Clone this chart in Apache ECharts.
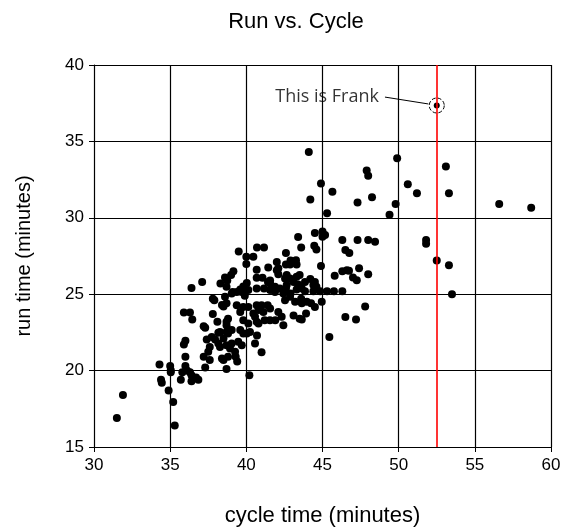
<!DOCTYPE html>
<html>
<head>
<meta charset="utf-8">
<script src="https://cdn.jsdelivr.net/npm/echarts@6/dist/echarts.min.js"></script>
<style>
  html, body { margin: 0; padding: 0; background: #fff; }
  #chart { width: 563px; height: 529px; }
</style>
</head>
<body>
<div id="chart"></div>
<script>
// cycle time (minutes) and run time (minutes), one entry per runner
var cycleTime = [
  31.5, 31.9, 34.3, 34.4, 34.45, 34.9, 35.2, 35.3, 35.0, 35.04, 35.04, 36.0, 36.1, 35.8, 36.3, 36.4, 36.7, 36.85, 36.4, 35.7,
  36.0, 35.9, 36.0, 35.9, 36.3, 36.45, 37.2, 37.3, 37.2, 37.6, 37.3, 38.5, 39.3, 39.4, 38.7, 40.2, 37.9, 37.8, 38.1, 38.7,
  38.8, 38.4, 38.5, 38.7, 37.8, 36.4, 37.1, 38.3, 38.6, 38.75, 39.0, 39.15, 39.5, 40.0, 40.46, 40.0, 40.7, 41.16, 40.68, 41.44,
  40.68, 41.06, 40.68, 41.16, 41.42, 40.03, 39.8, 39.6, 39.1,
  44.1, 49.9, 47.9, 48.0, 44.9, 50.6, 45.65, 51.2, 53.3, 53.1, 44.2, 47.3, 48.25, 49.8, 49.4, 45.3, 56.6, 58.7, 51.8, 51.8,
  52.5, 53.3, 53.5,
  44.5, 45.0, 45.17, 45.0, 43.4, 46.3, 47.3, 48.0, 48.45, 44.46, 44.6, 43.6, 42.6, 46.5, 46.76, 42.0, 42.9, 43.26, 42.87, 44.9,
  42.1, 46.3, 46.6, 46.74, 47.4, 45.8, 48.0, 47.0, 47.25, 44.2, 44.5, 44.4, 44.6,
  43.85, 44.4, 44.85, 45.3, 45.75, 46.3, 43.6, 43.97, 44.5, 44.95, 43.92, 43.64, 47.8, 46.5, 47.2, 45.45, 44.25, 43.1, 43.5,
  41.2, 41.55, 41.9, 40.7, 40.57, 41.0,
  42.6, 43.3, 42.0, 42.1, 42.65, 42.54, 42.87, 43.3, 43.5, 43.1, 42.65, 43.4, 43.85, 41.56, 39.7, 40.13, 41.56, 41.88, 42.2, 38.7,
  38.6, 39.04, 39.37, 39.9, 40.68, 41.4, 40.8, 40.46, 40.57, 41.12, 41.56, 42.1, 42.54, 42.87, 43.2, 43.64, 39.6, 39.8, 38.7, 39.8,
  40.13, 40.8, 42.32, 42.43, 38.7, 38.8, 39.04, 39.6, 39.8, 40.03, 40.24, 39.04, 39.47, 39.7, 38.7, 38.93, 39.26,
  38.27, 38.8, 37.73, 37.4, 37.95, 38.5, 38.16, 37.6, 37.5, 38.27, 38.8, 38.4,
  39.37, 40.13, 41.0, 38.16, 40.68,
  41.56, 41.88, 43.64, 43.3, 42.6, 42.43, 42.9
];
var runTime = [
  16.9, 18.4, 20.4, 19.4, 19.2, 18.7, 17.95, 16.4, 20.3, 20.03, 19.9, 20.3, 20.0, 19.9, 19.9, 19.7, 19.55, 19.4, 19.3, 19.4,
  20.9, 21.7, 21.95, 23.8, 23.8, 23.35, 22.9, 22.8, 20.9, 20.7, 20.2, 20.7, 20.9, 20.6, 20.1, 19.7, 24.6, 23.7, 23.2, 23.2,
  23.4, 24.3, 24.2, 24.4, 24.7, 25.4, 25.8, 25.7, 26.1, 25.9, 26.25, 26.5, 27.8, 27.45, 27.45, 26.97, 28.06, 28.06, 26.6, 26.75,
  26.07, 26.07, 25.38, 25.38, 25.8, 25.74, 25.5, 25.3, 25.15,
  34.3, 33.9, 33.1, 32.75, 32.25, 32.2, 31.7, 31.6, 31.6, 33.35, 31.2, 31.0, 31.35, 30.9, 30.2, 30.3, 30.9, 30.65, 28.55, 28.3,
  27.2, 26.9, 25.0,
  29.0, 29.1, 28.87, 28.76, 28.75, 28.55, 28.55, 28.55, 28.43, 28.17, 27.93, 28.06, 27.7, 27.9, 27.7, 27.1, 27.2, 27.23, 26.95, 26.85,
  26.7, 26.5, 26.57, 26.53, 26.7, 26.2, 26.3, 26.1, 25.92, 26.0, 25.8, 25.6, 25.48,
  25.2, 25.2, 25.2, 25.2, 25.2, 25.2, 24.7, 24.5, 24.17, 24.5, 23.74, 23.35, 24.2, 23.5, 23.35, 22.2, 24.4, 23.6, 23.4,
  23.3, 23.3, 23.3, 22.3, 21.77, 21.2,
  26.95, 26.95, 26.57, 26.3, 26.25, 26.03, 26.03, 26.14, 26.25, 25.8, 25.6, 25.64, 25.8, 25.9, 25.15, 25.27, 25.27, 25.15, 25.38, 25.48,
  24.83, 25.05, 25.15, 24.9, 24.28, 24.28, 23.96, 23.74, 23.52, 23.84, 24.07, 23.84, 24.61, 24.83, 24.5, 24.4, 23.84, 24.17, 22.97, 23.3,
  23.08, 23.08, 23.52, 22.97, 22.53, 22.43, 22.65, 22.65, 22.43, 22.43, 22.53, 21.77, 21.88, 21.66, 21.66, 21.45, 21.23,
  22.53, 22.65, 22.2, 22.03, 22.03, 22.1, 21.77, 21.55, 21.23, 21.55, 20.9, 20.8,
  24.28, 24.17, 24.28, 22.47, 23.19,
  25.7, 25.48, 25.38, 25.3, 25.38, 25.05, 25.05
];
// highlighted runner and the label
var frankCycle = 52.5;
var frankRun = 37.35;
var frankLabel = 'This is Frank';
var leaderFrom = [49.1, 37.9];
var leaderTo = [51.95, 37.45];

var chart = echarts.init(document.getElementById('chart'));

var points = cycleTime.map(function (c, i) { return [c, runTime[i]]; });

var font = 'Liberation Sans, Arial, sans-serif';
var axisText = { color: '#000', fontFamily: font, fontSize: 17 };

chart.setOption({
  animation: false,
  title: {
    text: 'Run vs. Cycle',
    left: 291,
    top: 6,
    textAlign: 'center',
    textStyle: { color: '#000', fontFamily: font, fontSize: 22, fontWeight: 'normal' }
  },
  grid: { left: 94, top: 65, right: 12, bottom: 82, containLabel: false, outerBoundsMode: 'none' },
  xAxis: {
    type: 'value',
    min: 30, max: 60, interval: 5,
    name: 'cycle time (minutes)',
    nameLocation: 'middle',
    nameGap: 58,
    nameTextStyle: { color: '#000', fontFamily: font, fontSize: 22 },
    axisLine: { lineStyle: { color: '#000', width: 1 } },
    axisTick: { show: true, inside: false, length: 5, lineStyle: { color: '#000' } },
    axisLabel: Object.assign({ margin: 10 }, axisText),
    splitLine: { show: true, lineStyle: { color: '#000', width: 1.2 } }
  },
  yAxis: {
    type: 'value',
    min: 15, max: 40, interval: 5,
    name: 'run time (minutes)',
    nameLocation: 'middle',
    nameGap: 60,
    nameTextStyle: { color: '#000', fontFamily: font, fontSize: 20 },
    axisLine: { show: true, lineStyle: { color: '#000', width: 1 } },
    axisTick: { show: true, inside: false, length: 5, lineStyle: { color: '#000' } },
    axisLabel: Object.assign({ margin: 10 }, axisText),
    splitLine: { show: true, lineStyle: { color: '#000', width: 1.2 } }
  },
  series: [
    {
      type: 'scatter',
      data: points,
      symbolSize: 8,
      itemStyle: { color: '#000', opacity: 1 },
      markLine: {
        silent: true,
        symbol: 'none',
        label: { show: false },
        lineStyle: { color: '#ff0000', width: 1.6, type: 'solid', opacity: 1 },
        data: [{ xAxis: frankCycle }]
      }
    },
    {
      type: 'scatter',
      data: [[frankCycle, frankRun]],
      symbolSize: 6,
      itemStyle: { color: '#000', opacity: 1 },
      z: 4
    },
    {
      type: 'scatter',
      data: [[frankCycle, frankRun]],
      symbol: 'circle',
      symbolSize: 15,
      itemStyle: { color: 'rgba(0,0,0,0)', borderColor: '#000', borderWidth: 1, borderType: 'dashed', opacity: 1 },
      z: 4
    },
    {
      type: 'line',
      data: [leaderFrom, leaderTo],
      symbol: 'none',
      lineStyle: { color: '#000', width: 1 },
      z: 4
    },
    {
      type: 'scatter',
      data: [leaderFrom],
      symbolSize: 0,
      label: {
        show: true,
        position: 'left',
        distance: 6,
        formatter: frankLabel,
        color: '#000',
        fontFamily: 'Open Sans, Lato, sans-serif',
        fontSize: 18
      }
    }
  ]
});
</script>
</body>
</html>
